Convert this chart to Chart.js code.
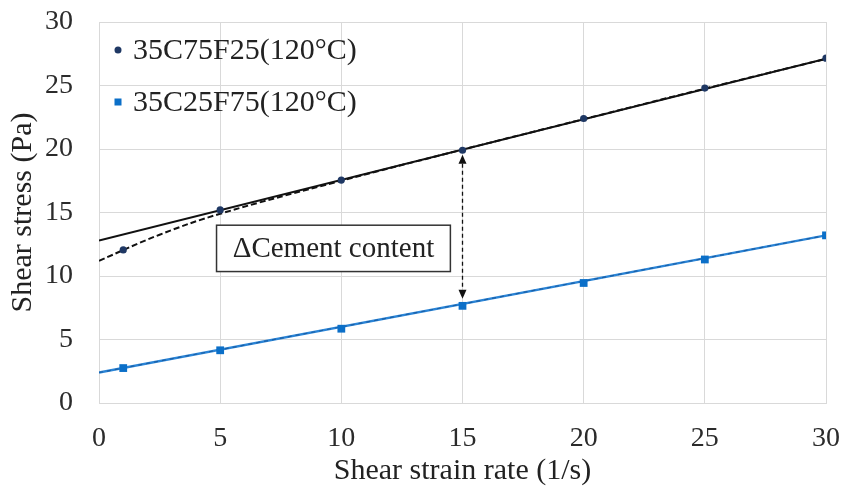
<!DOCTYPE html>
<html>
<head>
<meta charset="utf-8">
<script src="https://cdn.jsdelivr.net/npm/chart.js@4/dist/chart.umd.min.js"></script>
<style>
  html, body { margin: 0; padding: 0; background: #fff; }
  #wrap { width: 845px; height: 496px; position: relative; }
</style>
</head>
<body>
<div id="wrap"><canvas id="c"></canvas></div>
<script>
// Measured shear stress vs. shear strain rate
const strainRates = [1, 5, 10, 15, 20, 25, 30];
const stressC75F25 = [12.05, 15.2, 17.55, 19.9, 22.4, 24.8, 27.15];
const stressC25F75 = [2.75, 4.15, 5.85, 7.65, 9.45, 11.3, 13.2];

// Linear trend lines (end points)
const trendX = [0, 30];
const linearC75F25 = [12.8, 27.1];
const linearC25F75 = [2.4, 13.2];

// Curved trend line of 35C75F25
const curveX = [0, 2.5, 5, 10, 15, 20, 25, 30];
const curveC75F25 = [11.2, 13.25, 14.9, 17.5, 19.95, 22.35, 24.75, 27.1];

const seriesLabels = ['35C75F25(120°C)', '35C25F75(120°C)'];
const axisTitles = { x: 'Shear strain rate (1/s)', y: 'Shear stress (Pa)' };
const xTicks = [0, 5, 10, 15, 20, 25, 30];
const yTicks = [0, 5, 10, 15, 20, 25, 30];

// Difference arrow and its label
const deltaLabel = 'ΔCement content';
const deltaX = 15;
const deltaTop = 19.55;
const deltaBottom = 8.2;
const deltaBox = { x0: 4.85, x1: 14.5, y0: 10.35, y1: 14.0 };

const SERIF = '"Liberation Serif", "Times New Roman", serif';
const DARK = '#1f3864';
const BLUE = '#0b6fc8';

const toPts = (xs, ys) => xs.map((x, i) => ({ x, y: ys[i] }));

const overlay = {
  id: 'overlay',
  afterDatasetsDraw(chart) {
    const { ctx, chartArea, scales: { x, y } } = chart;
    ctx.save();

    // double-headed dashed arrow
    const ax = x.getPixelForValue(deltaX);
    const yT = y.getPixelForValue(deltaTop);
    const yB = y.getPixelForValue(deltaBottom);
    const head = 9, half = 4;
    ctx.strokeStyle = '#111';
    ctx.lineWidth = 1.3;
    ctx.setLineDash([4, 3]);
    ctx.beginPath();
    ctx.moveTo(ax, yT + head);
    ctx.lineTo(ax, yB - head);
    ctx.stroke();
    ctx.setLineDash([]);
    ctx.fillStyle = '#111';
    ctx.beginPath();
    ctx.moveTo(ax, yT); ctx.lineTo(ax - half, yT + head); ctx.lineTo(ax + half, yT + head); ctx.closePath();
    ctx.fill();
    ctx.beginPath();
    ctx.moveTo(ax, yB); ctx.lineTo(ax - half, yB - head); ctx.lineTo(ax + half, yB - head); ctx.closePath();
    ctx.fill();

    // label box
    const bx0 = x.getPixelForValue(deltaBox.x0);
    const bx1 = x.getPixelForValue(deltaBox.x1);
    const by0 = y.getPixelForValue(deltaBox.y1);
    const by1 = y.getPixelForValue(deltaBox.y0);
    ctx.fillStyle = '#fff';
    ctx.fillRect(bx0, by0, bx1 - bx0, by1 - by0);
    ctx.strokeStyle = '#333';
    ctx.lineWidth = 1.5;
    ctx.strokeRect(bx0, by0, bx1 - bx0, by1 - by0);
    ctx.fillStyle = '#222';
    ctx.font = '29px ' + SERIF;
    ctx.textAlign = 'center';
    ctx.textBaseline = 'middle';
    ctx.fillText(deltaLabel, (bx0 + bx1) / 2, (by0 + by1) / 2 + 1);

    // legend inside the plot area
    const lx = chartArea.left + 19;
    const tx = chartArea.left + 34;
    const rows = [chartArea.top + 28, chartArea.top + 80];
    ctx.textAlign = 'left';
    ctx.font = '30px ' + SERIF;
    ctx.fillStyle = DARK;
    ctx.beginPath();
    ctx.arc(lx, rows[0], 3.5, 0, Math.PI * 2);
    ctx.fill();
    ctx.fillStyle = BLUE;
    ctx.fillRect(lx - 3.5, rows[1] - 3.5, 7, 7);
    ctx.fillStyle = '#222';
    ctx.fillText(seriesLabels[0], tx, rows[0] + 1);
    ctx.fillText(seriesLabels[1], tx, rows[1] + 1);

    ctx.restore();
  }
};

new Chart(document.getElementById('c'), {
  type: 'scatter',
  data: {
    datasets: [
      {
        label: seriesLabels[0],
        data: toPts(strainRates, stressC75F25),
        pointStyle: 'circle', pointRadius: 3.6,
        backgroundColor: DARK, borderColor: DARK, borderWidth: 0,
        showLine: false, order: 0
      },
      {
        label: seriesLabels[1],
        data: toPts(strainRates, stressC25F75),
        pointStyle: 'rect', pointRadius: 5.5,
        backgroundColor: BLUE, borderColor: BLUE, borderWidth: 0,
        showLine: false, order: 0
      },
      {
        label: 'linear 35C75F25',
        data: toPts(trendX, linearC75F25),
        showLine: true, pointRadius: 0,
        borderColor: '#111', borderWidth: 2, order: 3
      },
      {
        label: 'curve 35C75F25',
        data: toPts(curveX, curveC75F25),
        showLine: true, pointRadius: 0,
        tension: 0.4,
        borderColor: '#111', borderWidth: 2, borderDash: [6, 3], order: 2
      },
      {
        label: 'linear 35C25F75',
        data: toPts(trendX, linearC25F75),
        showLine: true, pointRadius: 0,
        borderColor: '#2a84d6', borderWidth: 2.4, order: 3
      },
      {
        label: 'dashed 35C25F75',
        data: toPts(trendX, linearC25F75),
        showLine: true, pointRadius: 0,
        borderColor: '#1a5fa6', borderWidth: 1.2, borderDash: [4, 4], order: 2
      }
    ]
  },
  options: {
    responsive: true,
    maintainAspectRatio: false,
    animation: false,
    devicePixelRatio: 1,
    layout: { padding: { left: 0, right: 19, top: 22, bottom: 0 } },
    plugins: { legend: { display: false }, tooltip: { enabled: false } },
    scales: {
      x: {
        type: 'linear', min: 0, max: 30,
        afterBuildTicks: s => { s.ticks = xTicks.map(v => ({ value: v })); },
        afterFit: s => { s.height = 93; s.paddingLeft = 0; s.paddingRight = 0; },
        grid: { color: '#d9d9d9', lineWidth: 1, drawTicks: false },
        border: { color: '#d9d9d9' },
        ticks: { padding: 19, color: '#2b2b2b', font: { family: SERIF, size: 28 } },
        title: {
          display: true, text: axisTitles.x, color: '#222',
          font: { family: SERIF, size: 30 }, padding: { top: 0, bottom: 7 }
        }
      },
      y: {
        type: 'linear', min: 0, max: 30,
        afterBuildTicks: s => { s.ticks = yTicks.map(v => ({ value: v })); },
        afterFit: s => { s.width = 99; s.paddingTop = 0; s.paddingBottom = 0; },
        grid: { color: '#d9d9d9', lineWidth: 1, drawTicks: false },
        border: { color: '#d9d9d9' },
        ticks: { padding: 26, color: '#2b2b2b', font: { family: SERIF, size: 28 } },
        title: {
          display: true, text: axisTitles.y, color: '#222',
          font: { family: SERIF, size: 30 }, padding: { top: 5, bottom: 0 }
        }
      }
    }
  },
  plugins: [overlay]
});
</script>
</body>
</html>
